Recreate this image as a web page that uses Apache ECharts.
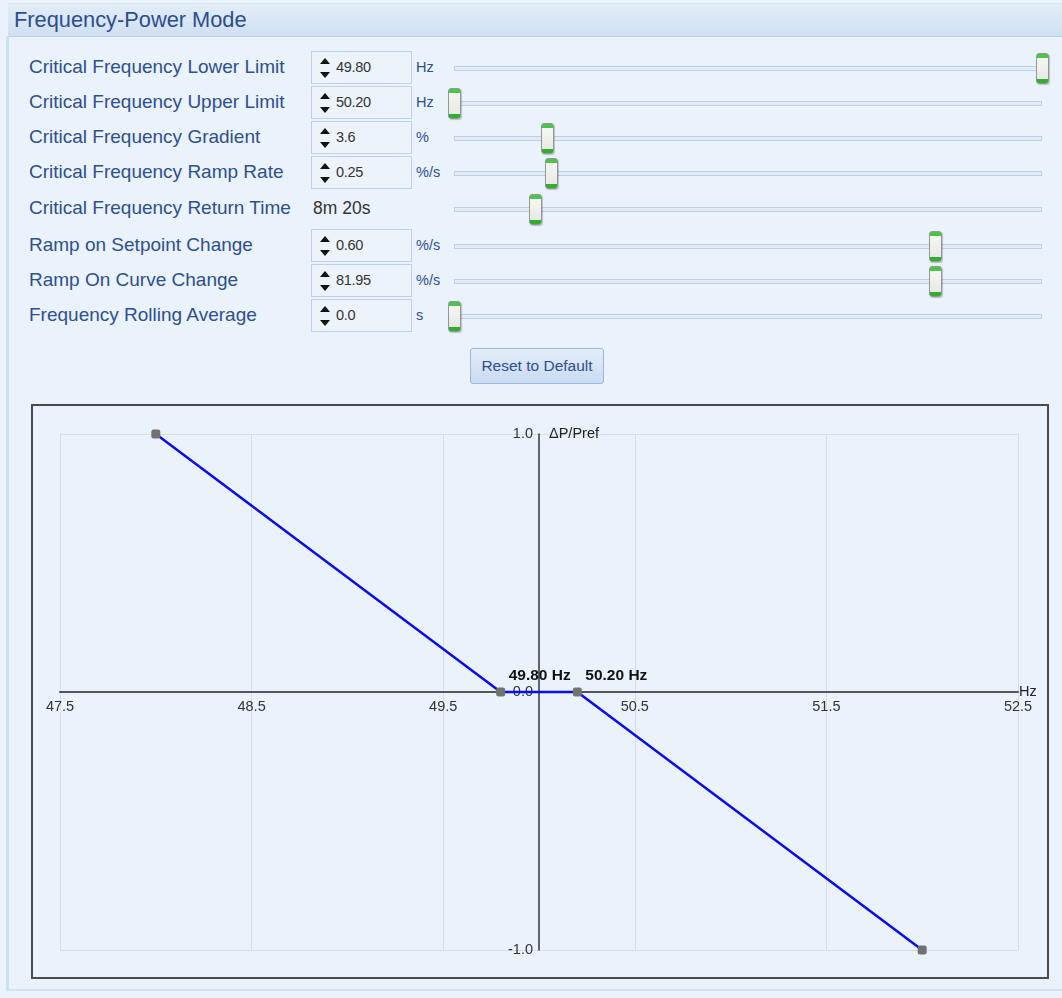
<!DOCTYPE html>
<html>
<head>
<meta charset="utf-8">
<script src="https://cdn.jsdelivr.net/npm/echarts@6/dist/echarts.min.js"></script>
<style>
  html, body { margin:0; padding:0; width:1062px; height:998px; overflow:hidden;
    background:#eaf2fb; font-family:"Liberation Sans", Arial, sans-serif; }
  #page { position:absolute; left:0; top:0; width:1062px; height:998px; }
  #titlebar { position:absolute; left:8px; top:3px; width:1054px; height:32px;
    background:linear-gradient(#e3edf8,#cfe0f2); border-bottom:1px solid #b9cfe8;
    border-top:1px solid #d6e3f2; }
  #titlebar span { position:absolute; left:6px; top:3px; font-size:21.8px; color:#2d4d8e; }
  #leftedge { position:absolute; left:6px; top:36px; width:3px; height:954px; background:#cddff2; }
  #bottomedge { position:absolute; left:6px; top:989px; width:1056px; height:2px; background:#d3e2f3; }
  .lbl { position:absolute; left:29px; font-size:19px; color:#2f4f8f; white-space:nowrap; }
  .spin { position:absolute; left:311px; width:101px; height:33px; box-sizing:border-box;
    border:1px solid #bdd0e8; background:#edf3fb; }
  .spin .up, .spin .dn { position:absolute; left:8px; width:0; height:0;
    border-left:5px solid transparent; border-right:5px solid transparent; }
  .spin .up { top:6px; border-bottom:6px solid #111; }
  .spin .dn { top:20px; border-top:6px solid #111; }
  .spin .val { position:absolute; left:24px; top:7px; font-size:14.5px; color:#333; letter-spacing:-0.3px; }
  .unit { position:absolute; left:416px; font-size:14.5px; color:#2f4f8f; }
  .plain { position:absolute; left:313px; font-size:17.5px; color:#333; }
  .track { position:absolute; left:454px; width:588px; height:5px; box-sizing:border-box;
    border:1px solid #bdd0e8; background:#e2ebf6; }
  .thumb { position:absolute; width:13px; height:31px; box-sizing:border-box;
    border:1px solid #8f9a8f; border-radius:3px;
    background:linear-gradient(#4cc44c 0,#4cc44c 4px,#f6f6f2 4px,#e8e8e4 25px,#2fae2f 25px,#2fae2f 100%);
    box-shadow:1px 1px 1px rgba(0,0,0,0.2); }
  #reset { position:absolute; left:470px; top:348px; width:134px; height:36px; box-sizing:border-box;
    border:1px solid #9bb7dc; border-radius:3px; background:linear-gradient(#e3edf9,#c9dbf1);
    font-size:15.5px; color:#2f4f8f; text-align:center; line-height:34px; }
  #chartbox { position:absolute; left:31px; top:404px; width:1018px; height:575px; box-sizing:border-box;
    border:2px solid #4a4a4a; background:#eaf2fb; }
  #chart { position:absolute; left:0; top:0; width:1014px; height:571px; }
</style>
</head>
<body>
<div id="page">
  <div id="titlebar"><span>Frequency-Power Mode</span></div>
  <div id="leftedge"></div>
  <div id="bottomedge"></div>
  <div id="controls"></div>
  <div id="reset">Reset to Default</div>
  <div id="chartbox"><div id="chart"></div></div>
</div>
<script>
// ---- control panel data ----
var settingLabels = ["Critical Frequency Lower Limit","Critical Frequency Upper Limit","Critical Frequency Gradient",
  "Critical Frequency Ramp Rate","Critical Frequency Return Time","Ramp on Setpoint Change","Ramp On Curve Change",
  "Frequency Rolling Average"];
var settingValues = ["49.80","50.20","3.6","0.25","8m 20s","0.60","81.95","0.0"];
var settingUnits = ["Hz","Hz","%","%/s","","%/s","%/s","s"];
var hasSpin = [true,true,true,true,false,true,true,true];
var sliderFraction = [1.0, 0.0, 0.158, 0.165, 0.138, 0.818, 0.818, 0.0];

// ---- chart data ----
var frequencyHz = [48.0, 49.8, 50.2, 52.0];
var deltaPower = [1.0, 0.0, 0.0, -1.0];
var labelledPoints = [false, true, true, false];
var xMin = 47.5, xMax = 52.5, xStep = 1.0;
var yMin = -1.0, yMax = 1.0, yStep = 1.0;
var xName = "Hz", yName = "\u0394P/Pref";

// build the control rows
var rowCenters = [68,103,138,173,209,246,281,316];
var html = "";
for (var i = 0; i < settingLabels.length; i++) {
  var c = rowCenters[i];
  html += '<div class="lbl" style="top:' + (c-12) + 'px">' + settingLabels[i] + '</div>';
  if (hasSpin[i]) {
    html += '<div class="spin" style="top:' + (c-17) + 'px"><div class="up"></div><div class="dn"></div><div class="val">' + settingValues[i] + '</div></div>';
    html += '<div class="unit" style="top:' + (c-9) + 'px">' + settingUnits[i] + '</div>';
  } else {
    html += '<div class="plain" style="top:' + (c-11) + 'px">' + settingValues[i] + '</div>';
  }
  html += '<div class="track" style="top:' + (c-2) + 'px"></div>';
  var tx = 454 + sliderFraction[i] * 588 - 6;
  html += '<div class="thumb" style="left:' + tx + 'px;top:' + (c-15) + 'px"></div>';
}
document.getElementById("controls").innerHTML = html;

var chart = echarts.init(document.getElementById("chart"));
var pts = frequencyHz.map(function (f, k) {
  return {
    value: [f, deltaPower[k]],
    label: { show: labelledPoints[k] }
  };
});
var option = {
  animation: false,
  backgroundColor: "transparent",
  grid: { left: 27, right: 29, top: 28, bottom: 27, outerBoundsMode: "none", containLabel: false },
  xAxis: {
    type: "value", min: xMin, max: xMax, interval: xStep,
    name: xName, nameLocation: "end", nameGap: 1, nameMoveOverlap: false,
    nameTextStyle: { color: "#222", fontSize: 14.5, verticalAlign: "middle", align: "left", padding: [0,0,6,0] },
    axisLine: { onZero: false, lineStyle: { color: "#555", width: 2 } },
    axisTick: { show: false },
    axisLabel: { color: "#333", fontSize: 14.5, margin: 7, formatter: function (v) { return v.toFixed(1); } },
    splitLine: { show: true, lineStyle: { color: "#d8dde3", width: 1 } }
  },
  yAxis: {
    type: "value", min: yMin, max: yMax, interval: yStep,
    name: yName, nameLocation: "end", nameGap: 0, nameMoveOverlap: false,
    nameTextStyle: { color: "#222", fontSize: 14.5, align: "left", verticalAlign: "middle", padding: [0,0,0,10] },
    axisLine: { show: true, onZero: false, lineStyle: { color: "#333", width: 1.5 } },
    axisTick: { show: false },
    axisLabel: { color: "#333", fontSize: 14.5, margin: 6, formatter: function (v) { return v.toFixed(1); } },
    splitLine: { show: true, lineStyle: { color: "#d8dde3", width: 1 } }
  },
  series: [{
    type: "line",
    data: pts,
    lineStyle: { color: "#0a0af5", width: 2.5 },
    symbol: "roundRect", symbolSize: 9,
    itemStyle: { color: "#727272" },
    label: {
      show: false, position: "top", align: "left", offset: [8, 0], distance: 4,
      color: "#111", fontWeight: "bold", fontSize: 15.5,
      formatter: function (p) { return p.value[0].toFixed(2) + " Hz"; }
    },
    z: 3
  }]
};
chart.setOption(option);
// move the axes so they cross at 50 Hz / zero power change
var gridLeftPx = chart.convertToPixel({ xAxisIndex: 0 }, xMin);
var centrePx = chart.convertToPixel({ xAxisIndex: 0 }, (xMin + xMax) / 2);
var gridBottomPx = chart.convertToPixel({ yAxisIndex: 0 }, yMin);
var zeroPx = chart.convertToPixel({ yAxisIndex: 0 }, 0);
chart.setOption({
  yAxis: { offset: -(centrePx - gridLeftPx) },
  xAxis: { offset: -(gridBottomPx - zeroPx) }
});
</script>
</body>
</html>
